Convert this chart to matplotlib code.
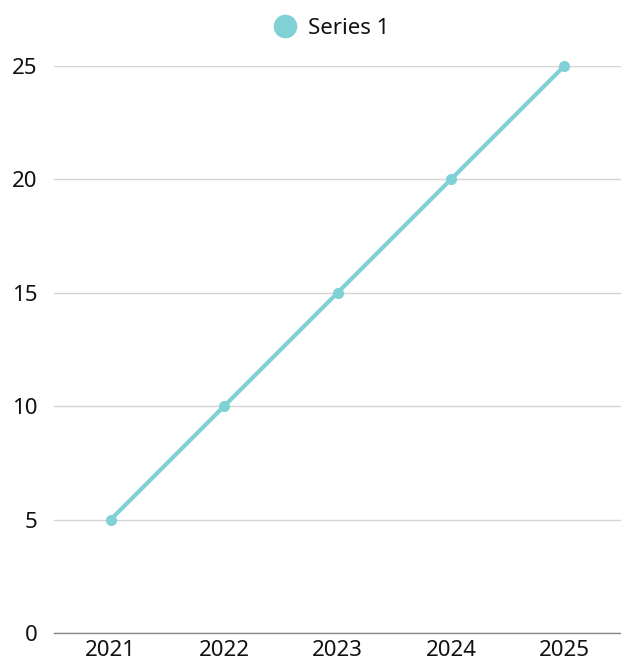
import matplotlib.pyplot as plt

# Series values by year
years = ["2021", "2022", "2023", "2024", "2025"]
series_1 = [5, 10, 15, 20, 25]
y_ticks = [0, 5, 10, 15, 20, 25]

LINE_COLOR = "#7fd1d6"
TEXT_COLOR = "#111111"

plt.rcParams["font.family"] = ["Noto Sans", "DejaVu Sans"]

fig = plt.figure(figsize=(6.21, 6.63), dpi=100)
ax = fig.add_axes([54 / 621, 30 / 663, 567 / 621, 567 / 663])

x = list(range(len(years)))
ax.plot(x, series_1, color=LINE_COLOR, linewidth=3, marker="o",
        markersize=7, label="Series 1", solid_capstyle="round",
        clip_on=False, zorder=3)

ax.set_xlim(-0.5, len(years) - 0.5)
ax.set_ylim(0, 25)
ax.set_xticks(x)
ax.set_xticklabels(years)
ax.set_yticks(y_ticks)

ax.grid(axis="y", color="#d4d4d4", linewidth=1)
ax.set_axisbelow(True)
for side in ("left", "right", "top"):
    ax.spines[side].set_visible(False)
ax.spines["bottom"].set_color("#888888")
ax.spines["bottom"].set_linewidth(1)
ax.spines["bottom"].set_zorder(2)

ax.tick_params(axis="both", length=0, labelsize=16, colors=TEXT_COLOR)
ax.tick_params(axis="y", pad=12)
ax.tick_params(axis="x", pad=5)

# legend with a single large circle handle, centered above the plot
handle = plt.Line2D([], [], color=LINE_COLOR, marker="o", linestyle="none",
                    markersize=16)
fig.legend([handle], ["Series 1"], loc="upper center",
           bbox_to_anchor=(0.525, 1.003), frameon=False, fontsize=16,
           handletextpad=0.0, labelcolor=TEXT_COLOR)

fig.savefig("out.png", dpi=100)
